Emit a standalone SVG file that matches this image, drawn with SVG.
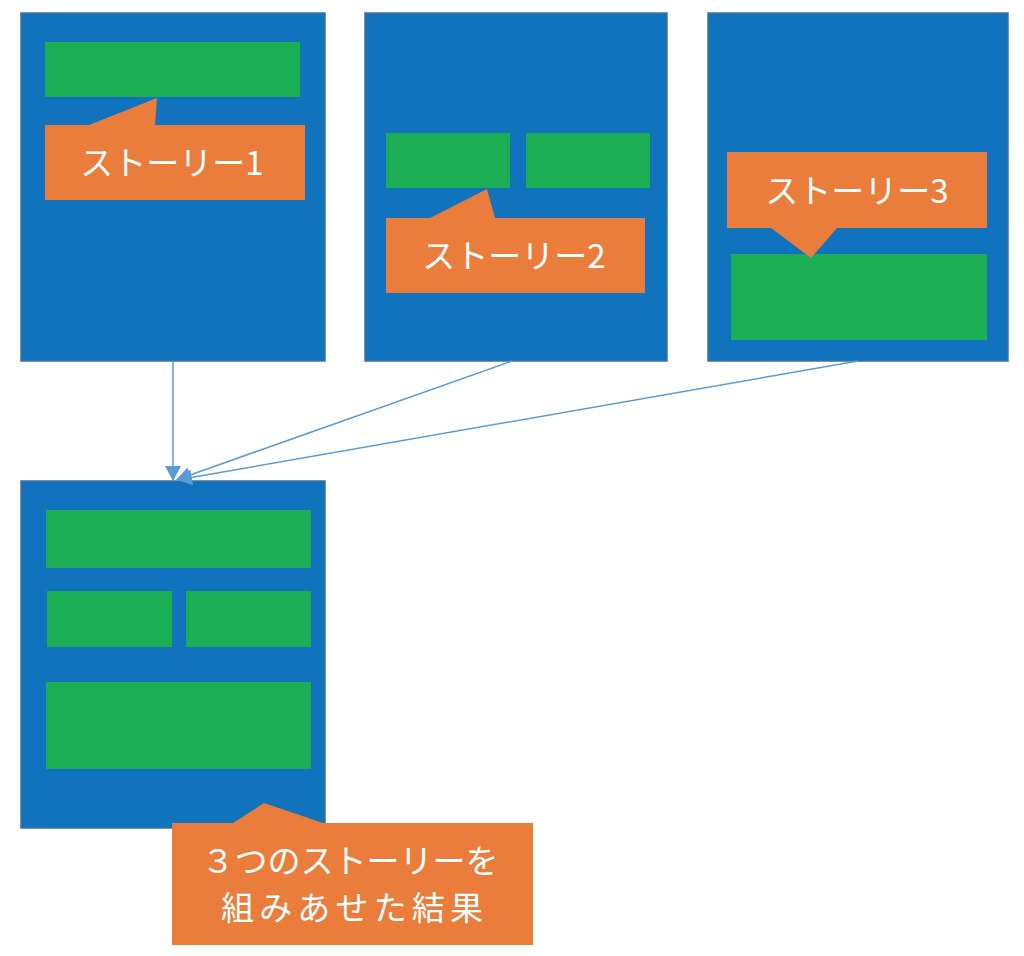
<svg xmlns="http://www.w3.org/2000/svg" width="1024" height="956" viewBox="0 0 1024 956">
<defs>
<style>
.panel{fill:#1172BD;stroke:#41719C;stroke-width:1.5}
.g{fill:#1BAE54}
.co{fill:#EA7D3C}
.t{fill:#FFFFFF;font-family:"Noto Sans CJK JP","Noto Sans",sans-serif;font-size:33px;text-anchor:middle}
.c{stroke:#5B9BD5;stroke-width:1.5;fill:none;marker-end:url(#ah)}
</style>
<marker id="ah" viewBox="0 0 15 16" refX="15" refY="8" markerWidth="15" markerHeight="16" markerUnits="userSpaceOnUse" orient="auto">
<path d="M0,0 L15,8 L0,16 Z" fill="#5B9BD5"/>
</marker>
</defs>
<rect width="1024" height="956" fill="#FFFFFF"/>
<g id="story1">
<rect class="panel" x="21" y="13" width="304" height="348"/>
<rect class="g" x="45" y="42" width="255" height="55"/>
<path class="co" d="M45,125 L89,125 L157,98 L155,125 L305,125 L305,200 L45,200 Z"/>
<text class="t" x="172" y="175">ストーリー1</text>
</g>
<g id="story2">
<rect class="panel" x="365" y="13" width="302" height="348"/>
<rect class="g" x="386" y="133" width="124" height="55"/>
<rect class="g" x="526" y="133" width="124" height="55"/>
<path class="co" d="M386,218 L430,218 L487,189 L495,218 L645,218 L645,293 L386,293 Z"/>
<text class="t" x="514" y="268">ストーリー2</text>
</g>
<g id="story3">
<rect class="panel" x="708" y="13" width="300" height="348"/>
<rect class="g" x="731" y="254" width="256" height="86"/>
<path class="co" d="M727,152 L987,152 L987,228 L837,228 L811,258 L771,228 L727,228 Z"/>
<text class="t" x="857" y="203">ストーリー3</text>
</g>
<g id="result">
<rect class="panel" x="21" y="481" width="304" height="347"/>
<rect class="g" x="46" y="510" width="265" height="58"/>
<rect class="g" x="47" y="591" width="125" height="56"/>
<rect class="g" x="186" y="591" width="125" height="56"/>
<rect class="g" x="46" y="682" width="265" height="87"/>
</g>
<g id="result-note">
<path class="co" d="M172,823 L233,823 L264,803 L323,823 L533,823 L533,945 L172,945 Z"/>
<text class="t" x="350" y="873" font-size="34">３つのストーリーを</text>
<text class="t" x="352" y="920" font-size="36" textLength="262" lengthAdjust="spacing">組みあせた結果</text>
</g>
<g id="connectors">
<line class="c" x1="173" y1="361" x2="173" y2="481"/>
<line class="c" x1="512" y1="361" x2="176" y2="480"/>
<line class="c" x1="858" y1="361" x2="177" y2="480"/>
</g>
</svg>
